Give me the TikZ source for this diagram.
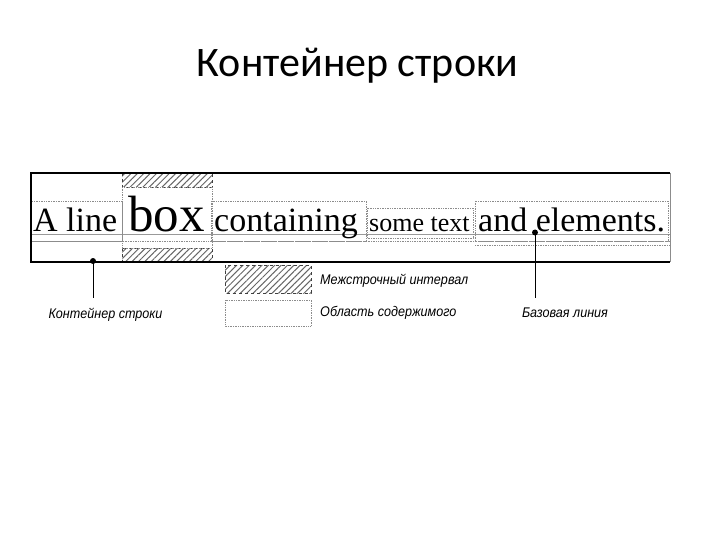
\documentclass[tikz,border=0pt]{standalone}
\usepackage{fontspec}
\setmainfont{Liberation Serif}
\newfontfamily\titlefont{Carlito}
\newfontfamily\labelfont[FakeStretch=0.9]{Liberation Sans}
\usetikzlibrary{patterns.meta}
\begin{document}
\begin{tikzpicture}[x=1pt,y=-1pt,
  hatch/.style={pattern={Lines[angle=45,distance=4.5pt,line width=1pt]},pattern color=black!60},
  hatchedge/.style={draw=black!75,dashed,line width=0.8pt},
  contentbox/.style={draw=black!45,densely dotted,line width=0.7pt},
  guide/.style={draw=black!40,line width=0.5pt},
  frame/.style={draw=black,line width=1.1pt},
  word/.style={inner sep=0pt,anchor=base west},
  callout/.style={font=\labelfont\itshape\fontsize{14}{16}\selectfont,inner sep=0pt},
  pin/.style={draw=black,line width=0.8pt},
  dot/.style={fill=black}]
\useasboundingbox (0,0) rectangle (720,540);

% title
\node[font=\titlefont\fontsize{42}{46}\selectfont,anchor=base,inner sep=0pt] (title) at (357.5,77) {Контейнер строки};

% half-leading hatched areas of "box"
\fill[hatch] (122,173) rectangle (212,187);
\fill[hatch] (122,248) rectangle (212,262);
\draw[hatchedge] (122,173) rectangle (212,187);
\draw[hatchedge] (122,248) rectangle (212,262);

% guide lines across the line box
\draw[guide] (31,234) -- (670,234);
\draw[contentbox] (31,241) -- (670,241);
\draw[contentbox] (475,245) -- (670,245);

% content areas
\draw[contentbox] (31,201) rectangle (122,241);
\draw[contentbox] (122,187) rectangle (212,248);
\draw[contentbox] (211,201) rectangle (366,241);
\draw[contentbox] (367,208) rectangle (473,238);
\draw[contentbox] (475,201) rectangle (668,241);

% words
\node[word,font=\fontsize{34}{34}\selectfont] (w1) at (33,232) {A line};
\node[word,font=\fontsize{51}{51}\selectfont] (w2) at (128,232) {box};
\node[word,font=\fontsize{34}{34}\selectfont] (w3) at (214,232) {containing};
\node[word,font=\fontsize{26}{26}\selectfont] (w4) at (369,232) {some text};
\node[word,font=\fontsize{34}{34}\selectfont] (w5) at (478,232) {and elements.};

% line box frame
\draw[draw=black!45,line width=0.7pt] (670,173) -- (670,262);
\draw[frame] (670,173) -- (31,173) -- (31,262) -- (670,262);
\draw[draw=black,line width=1.6pt] (31,173) -- (31,262);

% legend
\fill[hatch] (225,265) rectangle (311,293);
\draw[hatchedge] (225,265) rectangle (311,293);
\draw[contentbox] (225,300) rectangle (311,326);
\node[callout,anchor=west] (leg1) at (320,281) {Межстрочный интервал};
\node[callout,anchor=west] (leg2) at (320,313) {Область содержимого};

% callouts
\coordinate (d1) at (93,261);
\coordinate (d2) at (535,232.5);
\node[callout] (c1) at (105.5,315) {Контейнер строки};
\node[callout] (c2) at (565,313) {Базовая линия};
\coordinate (e1) at (93,298);
\coordinate (e2) at (535,298);
\draw[pin] (d1) -- (e1);
\draw[pin] (d2) -- (e2);
\fill[dot] (d1) circle (3pt);
\fill[dot] (d2) circle (3pt);
\end{tikzpicture}
\end{document}
